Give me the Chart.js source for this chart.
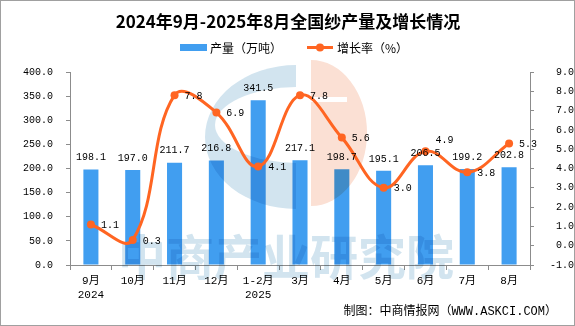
<!DOCTYPE html>
<html>
<head>
<meta charset="utf-8">
<script src="https://cdn.jsdelivr.net/npm/chart.js"></script>
<style>
body { margin: 0; background: #fff; }
#box { width: 575px; height: 326px; box-sizing: border-box; border: 1px solid #a0a0a0; }
canvas { display: block; }
</style>
</head>
<body>
<div id="box"><canvas id="myChart" width="573" height="324"></canvas></div>
<script>
var months = [["9月", "2024"], "10月", "11月", "12月", ["1-2月", "2025"], "3月", "4月", "5月", "6月", "7月", "8月"];
var output = [198.1, 197.0, 211.7, 216.8, 341.5, 217.1, 198.7, 195.1, 206.5, 199.2, 202.8];
var growth = [1.1, 0.3, 7.8, 6.9, 4.1, 7.8, 5.6, 3.0, 4.9, 3.8, 5.3];
var outputTicks = [0, 400, 50];   // min, max, step
var growthTicks = [-1, 9, 1];

var blue = '#419ef0';
var orange = '#ff6522';
var numFont = "'Liberation Mono', 'Noto Sans CJK SC'";
var cjkFont = "'Noto Sans CJK SC'";

Chart.defaults.font.family = numFont;
Chart.defaults.color = '#000';

// watermark (logo + text), drawn with multiply over the bars
function makeWatermark(w, h) {
    var c = document.createElement('canvas');
    c.width = w; c.height = h;
    var g = c.getContext('2d');
    g.translate(-1, -1);
    g.save();
    g.beginPath(); g.rect(150, 50, 146, 170); g.clip();
    g.fillStyle = '#d2e4ef';
    g.beginPath(); g.ellipse(296, 137, 91, 72, 0, 0, Math.PI * 2); g.fill();
    g.globalCompositeOperation = 'destination-out';
    g.beginPath(); g.ellipse(298, 125, 83, 38, 0, 0, Math.PI * 2); g.fill();
    g.restore();
    g.save();
    g.beginPath(); g.rect(311, 50, 80, 170); g.clip();
    g.fillStyle = '#fbe0d4';
    g.beginPath(); g.ellipse(311, 133, 56, 73, 0, 0, Math.PI * 2); g.fill();
    g.globalCompositeOperation = 'destination-out';
    g.fillRect(311, 97, 36, 5);
    g.restore();
    g.fillStyle = '#d2e4ef';
    g.font = "bold 48px " + cjkFont;
    g.textAlign = 'center';
    g.textBaseline = 'middle';
    g.fillText('中商产业研究院', 286, 257);
    return c;
}
var wm = makeWatermark(573, 324);

var extras = {
    id: 'extras',
    afterDatasetDraw: function(chart, args) {
        if (args.index !== 0) return;
        var ctx = chart.ctx;
        ctx.save();
        ctx.globalCompositeOperation = 'multiply';
        ctx.drawImage(wm, 0, 0);
        ctx.restore();
    },
    afterDatasetsDraw: function(chart) {
        var ctx = chart.ctx;
        ctx.save();
        ctx.font = '10px ' + numFont;
        ctx.fillStyle = '#000';
        ctx.textBaseline = 'middle';
        // bar values
        ctx.textAlign = 'center';
        chart.getDatasetMeta(0).data.forEach(function(el, i) {
            ctx.fillText(output[i].toFixed(1), el.x, el.y - 12);
        });
        // growth values
        ctx.textAlign = 'left';
        chart.getDatasetMeta(1).data.forEach(function(el, i) {
            var dy = (i == 8) ? -11 : 1;
            ctx.fillText(growth[i].toFixed(1), el.x + 10, el.y + dy);
        });
        ctx.restore();
    },
    afterDraw: function(chart) {
        var ctx = chart.ctx;
        ctx.save();
        ctx.translate(-1, -1);
        ctx.fillStyle = '#000';
        ctx.textBaseline = 'middle';
        // title
        ctx.textAlign = 'center';
        ctx.font = 'bold 17px ' + cjkFont;
        ctx.fillText('2024年9月-2025年8月全国纱产量及增长情况', 288, 22);
        // legend
        ctx.textAlign = 'left';
        ctx.font = '12px ' + cjkFont;
        ctx.fillStyle = blue;
        ctx.fillRect(180, 44, 27, 7);
        ctx.fillStyle = '#000';
        ctx.fillText('产量（万吨）', 210, 48);
        ctx.strokeStyle = orange;
        ctx.lineWidth = 3;
        ctx.beginPath(); ctx.moveTo(307, 47.5); ctx.lineTo(333, 47.5); ctx.stroke();
        ctx.fillStyle = orange;
        ctx.beginPath(); ctx.arc(320, 47.5, 4, 0, Math.PI * 2); ctx.fill();
        ctx.fillStyle = '#000';
        ctx.fillText('增长率（%）', 337, 48);
        // source
        ctx.textAlign = 'right';
        ctx.font = '12px ' + numFont;
        ctx.fillText('制图：中商情报网（WWW.ASKCI.COM）', 557, 312);
        ctx.restore();
    }
};

var ctx = document.getElementById('myChart').getContext('2d');
var chart = new Chart(ctx, {
    type: 'bar',
    data: {
        labels: months,
        datasets: [{
            label: '产量（万吨）',
            data: output,
            backgroundColor: blue,
            yAxisID: 'y',
            order: 1,
            categoryPercentage: 1,
            barPercentage: 0.36
        }, {
            type: 'line',
            label: '增长率（%）',
            data: growth,
            borderColor: orange,
            backgroundColor: orange,
            borderWidth: 3,
            pointRadius: 4,
            pointBorderWidth: 0,
            pointBackgroundColor: orange,
            tension: 0.4,
            yAxisID: 'y1',
            order: 0
        }]
    },
    options: {
        responsive: false,
        animation: false,
        layout: { padding: { top: 71, left: 0, right: 0, bottom: 0 } },
        plugins: { legend: { display: false }, tooltip: { enabled: false } },
        scales: {
            x: {
                afterFit: function(s) { s.height = 60; },
                grid: { drawOnChartArea: false, offset: true, tickLength: 5, color: '#8c8c8c' },
                border: { color: '#8c8c8c' },
                ticks: { font: { size: 11, lineHeight: 1.25 }, padding: 4, maxRotation: 0 }
            },
            y: {
                position: 'left',
                min: outputTicks[0], max: outputTicks[1],
                afterFit: function(s) { s.width = 69; },
                grid: { drawOnChartArea: false, tickLength: 4, color: '#8c8c8c' },
                border: { color: '#8c8c8c' },
                ticks: { stepSize: outputTicks[2], padding: 13, font: { size: 10 },
                    callback: function(v) { return v.toFixed(1); } }
            },
            y1: {
                position: 'right',
                min: growthTicks[0], max: growthTicks[1],
                afterFit: function(s) { s.width = 44; },
                grid: { drawOnChartArea: false, tickLength: 4, color: '#8c8c8c' },
                border: { color: '#8c8c8c' },
                ticks: { stepSize: growthTicks[2], padding: 3, crossAlign: 'far', font: { size: 10 },
                    callback: function(v) { return v.toFixed(1); } }
            }
        }
    },
    plugins: [extras]
});
</script>
</body>
</html>
